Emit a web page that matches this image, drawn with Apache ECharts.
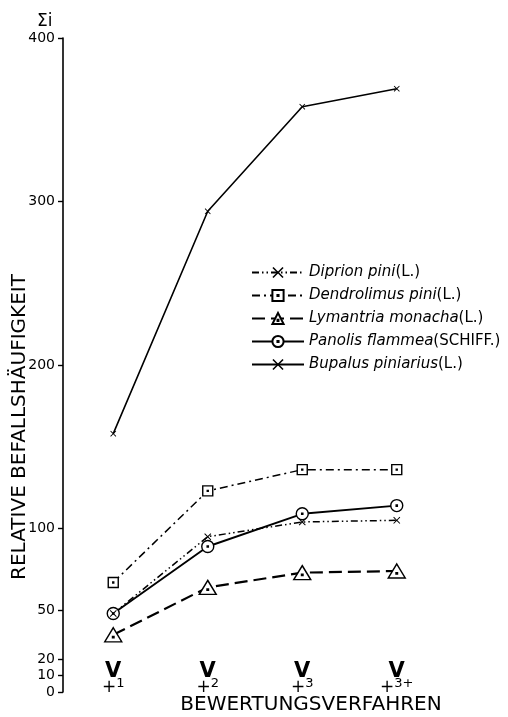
<!DOCTYPE html>
<html>
<head>
    <meta charset="utf-8">
    <title>Relative Befallshäufigkeit</title>
    <script src="https://cdn.jsdelivr.net/npm/echarts@6/dist/echarts.min.js"></script>
    <style>
        html, body { margin: 0; padding: 0; background: #fff; }
        #main { width: 508px; height: 717px; }
    </style>
</head>
<body>
    <div id="main"></div>
    <script type="text/javascript">
        // Bewertungsverfahren
        var verfahren = ['1', '2', '3', '3+'];
        var yTicks = [0, 10, 20, 50, 100, 200, 300, 400];

        var diprion = [48, 95, 104, 105];
        var dendrolimus = [67, 123, 136, 136];
        var lymantria = [35, 64, 73, 74];
        var panolis = [48, 89, 109, 114];
        var bupalus = [158, 294, 358, 369];

        var names = [
            ['Diprion pini', '(L.)'],
            ['Dendrolimus pini', '(L.)'],
            ['Lymantria monacha', '(L.)'],
            ['Panolis flammea', '(SCHIFF.)'],
            ['Bupalus piniarius', '(L.)']
        ];

        var FONT = 'DejaVu Sans';
        var cross = 'path://M-5,-4 L-4,-5 L0,-1 L4,-5 L5,-4 L1,0 L5,4 L4,5 L0,1 L-4,5 L-5,4 L-1,0 Z';
        var squareDot = 'path://M-5,-5 L5,-5 L5,5 L-5,5 Z M-0.5,-0.5 L0.5,-0.5 L0.5,0.5 L-0.5,0.5 Z';
        var circleDot = 'path://M0,-5 A5,5 0 1,1 0,5 A5,5 0 1,1 0,-5 Z M-0.5,-0.5 L0.5,-0.5 L0.5,0.5 L-0.5,0.5 Z';
        var triDot = 'path://M0,-5 L6,4.5 L-6,4.5 Z M-0.5,0.8 L0.5,0.8 L0.5,1.8 L-0.5,1.8 Z';

        function serie(idx, data, symbol, size, width, dash, hollow) {
            return {
                name: names[idx].join(''),
                type: 'line',
                data: data,
                symbol: symbol,
                symbolSize: size,
                animation: false,
                lineStyle: { color: '#000', width: width, type: dash },
                itemStyle: hollow
                    ? { color: '#fff', borderColor: '#000', borderWidth: 1.4 }
                    : { color: '#000', borderWidth: 0 }
            };
        }

        var myChart = echarts.init(document.getElementById('main'));

        var option = {
            backgroundColor: '#fff',
            title: [{
                text: 'Σi',
                left: 32,
                top: 8,
                textStyle: { fontFamily: FONT, fontSize: 17, fontWeight: 'normal', color: '#000' }
            }],
            legend: {
                orient: 'vertical',
                left: 246,
                top: 260,
                itemGap: 8,
                itemWidth: 52,
                itemHeight: 14,
                data: names.map(function (n) { return n.join(''); }),
                formatter: function (name) {
                    for (var i = 0; i < names.length; i++) {
                        if (names[i].join('') === name) {
                            return '{i|' + names[i][0] + '}{n|' + names[i][1] + '}';
                        }
                    }
                    return name;
                },
                textStyle: {
                    color: '#000',
                    rich: {
                        i: { fontFamily: FONT, fontStyle: 'italic', fontSize: 15, color: '#000' },
                        n: { fontFamily: FONT, fontSize: 15, color: '#000' }
                    }
                }
            },
            grid: {
                left: 66,
                right: 64,
                top: 38,
                bottom: 25,
                containLabel: false,
                outerBoundsMode: 'none'
            },
            xAxis: {
                type: 'category',
                data: verfahren,
                boundaryGap: true,
                axisLine: { show: false },
                axisTick: { show: false },
                axisLabel: {
                    inside: true,
                    margin: -3,
                    interval: 0,
                    formatter: function (v) {
                        return '{v|V}\n{p|+}{n|' + v + '}';
                    },
                    rich: {
                        v: { fontFamily: FONT, fontSize: 21, fontWeight: 'bold', color: '#000', lineHeight: 18 },
                        p: { fontFamily: FONT, fontSize: 17, color: '#000', lineHeight: 14 },
                        n: { fontFamily: FONT, fontSize: 13, color: '#000', lineHeight: 14, padding: [0, 0, 8, 0] }
                    }
                },
                name: 'BEWERTUNGSVERFAHREN',
                nameLocation: 'middle',
                nameMoveOverlap: false,
                nameGap: 3,
                nameTextStyle: {
                    fontFamily: FONT,
                    fontSize: 20,
                    color: '#000',
                    padding: [0, 0, 0, 112]
                }
            },
            yAxis: {
                type: 'value',
                min: 0,
                max: 400,
                offset: 3,
                splitLine: { show: false },
                axisLine: { show: true, lineStyle: { color: '#000', width: 1.6 } },
                axisTick: {
                    show: true,
                    length: 5,
                    customValues: yTicks,
                    lineStyle: { color: '#000', width: 1.4 }
                },
                axisLabel: {
                    customValues: yTicks,
                    margin: 8,
                    fontFamily: FONT,
                    fontSize: 14,
                    color: '#000'
                },
                name: 'RELATIVE BEFALLSHÄUFIGKEIT',
                nameLocation: 'middle',
                nameMoveOverlap: false,
                nameRotate: 90,
                nameGap: 33,
                nameTextStyle: {
                    fontFamily: FONT,
                    fontSize: 20,
                    color: '#000',
                    padding: [0, 124, 0, 0]
                }
            },
            series: [
                serie(4, bupalus, cross, 6, 1.6, 'solid', false),
                serie(1, dendrolimus, squareDot, 10, 1.5, [8, 4, 2, 4], true),
                serie(2, lymantria, triDot, [17, 14], 2.2, [13, 6], true),
                serie(3, panolis, circleDot, 12, 1.9, 'solid', true),
                serie(0, diprion, cross, 7, 1.5, [7, 3, 1.5, 3, 1.5, 3], false)
            ]
        };

        myChart.setOption(option);
    </script>
</body>
</html>
